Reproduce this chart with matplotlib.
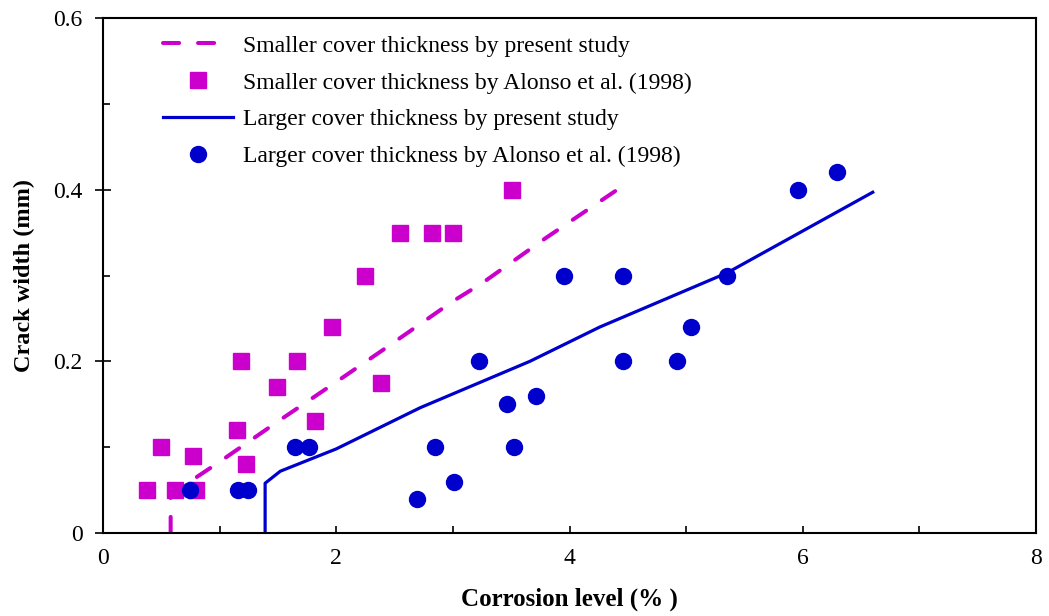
import numpy as np
import matplotlib
matplotlib.use('Agg')
import matplotlib.pyplot as plt

plt.rcParams['font.family'] = ['Liberation Serif', 'DejaVu Serif']

# Smaller cover thickness - present study (dashed) and Alonso et al. (1998) squares
small_model_x = [0.58, 0.58, 1.0, 1.5, 2.0, 2.44, 3.0, 3.25, 3.8, 4.41]
small_model_y = [0.0, 0.045, 0.083, 0.130, 0.176, 0.217, 0.270, 0.291, 0.344, 0.400]
small_test_x = [0.38, 0.50, 0.62, 0.77, 0.80, 1.15, 1.18, 1.23, 1.49, 1.66, 1.82,
                1.96, 2.25, 2.38, 2.55, 2.82, 3.00, 3.51]
small_test_y = [0.05, 0.10, 0.05, 0.09, 0.05, 0.12, 0.20, 0.08, 0.17, 0.20, 0.13,
                0.24, 0.30, 0.175, 0.35, 0.35, 0.35, 0.40]

# Larger cover thickness - present study (solid) and Alonso et al. (1998) circles
large_model_x = [1.39, 1.39, 1.52, 2.0, 2.72, 3.66, 4.26, 5.35, 6.6]
large_model_y = [0.0, 0.058, 0.072, 0.098, 0.146, 0.200, 0.240, 0.303, 0.397]
large_test_x = [0.75, 1.16, 1.24, 1.65, 1.77, 2.69, 2.85, 3.01, 3.22, 3.46, 3.52,
                3.71, 3.95, 4.46, 4.46, 4.92, 5.04, 5.35, 5.96, 6.29]
large_test_y = [0.05, 0.05, 0.05, 0.10, 0.10, 0.04, 0.10, 0.06, 0.20, 0.15, 0.10,
                0.16, 0.30, 0.30, 0.20, 0.20, 0.24, 0.30, 0.40, 0.42]

x_ticks = [0, 2, 4, 6, 8]
x_minor = [1, 3, 5, 7]
y_ticks = [0, 0.2, 0.4, 0.6]
y_minor = [0.1, 0.3, 0.5]
y_tick_labels = ['0', '0.2', '0.4', '0.6']

magenta = '#CC00CC'
blue = '#0000CC'

fig = plt.figure(figsize=(10.49, 6.16), dpi=100)
ax = fig.add_axes([0.0982, 0.1347, 0.8894, 0.8361])

ax.plot(small_model_x, small_model_y, color=magenta, lw=2.9, dashes=(4.0, 4.7),
        dash_capstyle='round', label='Smaller cover thickness by present study')
ax.plot(small_test_x, small_test_y, 's', color=magenta, ms=11, mec=magenta,
        label='Smaller cover thickness by Alonso et al. (1998)')
ax.plot(large_model_x, large_model_y, color=blue, lw=2.3,
        label='Larger cover thickness by present study')
ax.plot(large_test_x, large_test_y, 'o', color=blue, ms=11.5, mec=blue,
        label='Larger cover thickness by Alonso et al. (1998)')

ax.set_xlim(0, 8)
ax.set_ylim(0, 0.6)
ax.set_xticks(x_ticks)
ax.set_xticks(x_minor, minor=True)
ax.set_yticks(y_ticks)
ax.set_yticklabels(y_tick_labels)
ax.set_yticks(y_minor, minor=True)

ax.tick_params(axis='y', which='major', direction='inout', length=11, width=1.2,
               labelsize=17, pad=9)
ax.tick_params(axis='y', which='minor', direction='in', length=5, width=1.2)
ax.tick_params(axis='x', which='major', direction='in', length=5, width=1.2,
               labelsize=17, pad=10.5)
ax.tick_params(axis='x', which='minor', direction='in', length=5, width=1.2)
for s in ax.spines.values():
    s.set_linewidth(1.5)

ax.set_xlabel('Corrosion level (% )', fontsize=18, fontweight='bold', labelpad=14)
ax.set_ylabel('Crack width (mm)', fontsize=17.5, fontweight='bold', labelpad=13)

ax.legend(loc='upper left', bbox_to_anchor=(0.042, 1.008), frameon=False,
          fontsize=17, handlelength=2.95, handletextpad=0.4, labelspacing=0.65)

fig.savefig('out.png', dpi=100)
